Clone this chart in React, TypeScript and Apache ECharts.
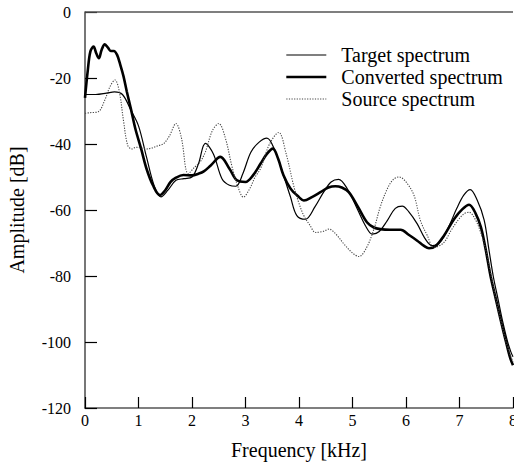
import React, { useEffect, useRef } from "react";
import * as echarts from "echarts";

const xTicks = [0, 1, 2, 3, 4, 5, 6, 7, 8];
const yTicks = [0, -20, -40, -60, -80, -100, -120];

const targetFreq = [0, 0.2, 0.4, 0.55, 0.7, 0.85, 1.0, 1.15, 1.3, 1.42, 1.55, 1.7, 1.85, 2.0, 2.12, 2.25, 2.4, 2.56, 2.7, 2.82, 2.95, 3.1, 3.25, 3.4, 3.55, 3.71, 3.84, 3.96, 4.12, 4.3, 4.46, 4.6, 4.74, 4.9, 5.09, 5.25, 5.37, 5.5, 5.65, 5.8, 5.93, 6.05, 6.21, 6.35, 6.49, 6.65, 6.8, 6.95, 7.08, 7.2, 7.33, 7.46, 7.55, 7.63, 7.72, 7.81, 7.9, 7.96, 8.0];
const targetAmp = [-25, -25, -24.6, -24.2, -25, -29.5, -34.5, -44, -53, -56, -54, -51, -50.5, -50, -46, -39.8, -43, -50.5, -52.5, -52.8, -49, -42.5, -39.5, -38.2, -42, -49.5, -56, -61.7, -62.8, -59, -54.6, -51.5, -50.7, -53.5, -59.7, -65, -67.3, -66.5, -63.2, -59.5, -58.8, -60.5, -64.2, -68.5, -70.8, -69.5, -65, -59.5, -55.5, -53.8, -57, -63, -72, -80, -87, -94, -100, -103, -104.5];

const convertedFreq = [0, 0.05, 0.1, 0.16, 0.21, 0.26, 0.31, 0.37, 0.43, 0.48, 0.54, 0.6, 0.66, 0.72, 0.78, 0.86, 0.94, 1.05, 1.15, 1.27, 1.4, 1.5, 1.6, 1.7, 1.84, 2.0, 2.12, 2.22, 2.35, 2.53, 2.7, 2.84, 3.0, 3.14, 3.28, 3.4, 3.51, 3.61, 3.71, 3.84, 4.0, 4.09, 4.25, 4.4, 4.55, 4.68, 4.8, 4.93, 5.1, 5.27, 5.4, 5.52, 5.7, 5.9, 6.05, 6.21, 6.33, 6.43, 6.55, 6.7, 6.9, 7.05, 7.18, 7.3, 7.4, 7.49, 7.58, 7.68, 7.78, 7.87, 7.95, 8.0];
const convertedAmp = [-26, -18, -12, -10.5, -12.5, -14, -11.5, -9.8, -10.8, -11.8, -11.8, -13, -16, -19.5, -24, -29.5, -35.3, -41.5, -47.5, -52.5, -55.5, -54, -51.5, -50.2, -49.4, -49.5, -49, -48.3, -46.5, -43.9, -47.5, -51, -51.5, -49.5, -46, -43, -41.4, -44.5, -49.5, -53.5, -56.1, -57.1, -56, -54.6, -53.2, -52.8, -53.2, -54.6, -59, -63.7, -65.3, -65.8, -66, -66, -67.5, -69.3, -70.8, -71.6, -71, -68, -62.7, -59.8, -58.4, -61, -65.2, -72, -80, -87, -94, -100, -105, -107];

const sourceFreq = [0, 0.1, 0.25, 0.37, 0.47, 0.56, 0.64, 0.72, 0.8, 0.88, 0.95, 1.05, 1.15, 1.25, 1.37, 1.47, 1.58, 1.7, 1.8, 1.93, 2.05, 2.15, 2.25, 2.38, 2.5, 2.62, 2.75, 2.86, 2.96, 3.08, 3.18, 3.28, 3.45, 3.62, 3.76, 3.9, 4.0, 4.09, 4.2, 4.31, 4.45, 4.56, 4.7, 4.84, 5.0, 5.12, 5.26, 5.4, 5.52, 5.65, 5.76, 5.87, 6.0, 6.15, 6.27, 6.4, 6.52, 6.7, 6.85, 7.0, 7.1, 7.18, 7.3, 7.4, 7.49, 7.58, 7.68, 7.78, 7.87, 7.95, 8.0];
const sourceAmp = [-30.7, -30.5, -30.2, -26.7, -22.5, -20.6, -24, -33, -40.5, -41.5, -41, -41.2, -41.5, -41.2, -40.5, -39.9, -37.5, -33.8, -38, -49, -47, -45.5, -42.4, -36, -33.8, -38, -47, -53, -56.1, -53.5, -50, -47.5, -40, -36.5, -43, -52.6, -58, -61.7, -64.5, -66.8, -66.5, -65.8, -67.5, -70.3, -73, -74.1, -71.5, -65.8, -59, -53.6, -50.8, -50, -51.5, -55.6, -63.2, -67.8, -71.3, -70, -66, -62.5, -61, -60.7, -63, -67, -72, -79, -87, -94, -100, -104, -106];

const seriesNames = ["Target spectrum", "Converted spectrum", "Source spectrum"];
const topFrameValue = 0;

const zip = (xs: number[], ys: number[]) => xs.map((x, i) => [x, ys[i]]);

const FONT = "'Liberation Serif', 'Times New Roman', serif";

const thin = { color: "#000", width: 1.2 };
const thick = { color: "#000", width: 2.6 };
const dotted = { color: "#444", width: 1.1, type: [1.2, 1.4] };
const axisLineStyle = { color: "#555", width: 1.6 };

export default function App() {
  const ref = useRef<HTMLDivElement>(null);
  useEffect(() => {
    if (!ref.current) return;
    const chart = echarts.init(ref.current, undefined, { renderer: "svg" });
    chart.setOption({
      animation: false,
      backgroundColor: "#fff",
      textStyle: { fontFamily: FONT, color: "#000" },
      grid: { left: 85, right: 1, top: 12, bottom: 65, containLabel: false, outerBoundsMode: "none" },
      legend: {
        orient: "vertical",
        left: 280,
        top: 40,
        itemWidth: 40,
        itemHeight: 10,
        itemGap: 2,
        itemStyle: { color: "transparent", borderWidth: 0, opacity: 0 },
        data: [
          { name: seriesNames[0], lineStyle: thin },
          { name: seriesNames[1], lineStyle: thick },
          { name: seriesNames[2], lineStyle: dotted },
        ],
        textStyle: { fontFamily: FONT, fontSize: 20, color: "#000", lineHeight: 20, padding: [0, 0, 0, 10] },
      },
      xAxis: {
        type: "value",
        min: 0,
        max: 8,
        interval: 1,
        name: "Frequency [kHz]",
        nameLocation: "middle",
        nameGap: 32,
        nameTextStyle: { fontFamily: FONT, fontSize: 20, color: "#000" },
        axisLine: { show: true, onZero: false, lineStyle: axisLineStyle },
        axisTick: { show: true, inside: true, length: 11, lineStyle: { color: "#000", width: 1.2 } },
        axisLabel: { fontFamily: FONT, fontSize: 16, color: "#000", margin: 4, showMaxLabel: true },
        splitLine: { show: false },
      },
      yAxis: {
        type: "value",
        min: -120,
        max: 0,
        interval: 20,
        name: "Amplitude [dB]",
        nameLocation: "middle",
        nameGap: 58,
        nameTextStyle: { fontFamily: FONT, fontSize: 20, color: "#000" },
        axisLine: { show: true, onZero: false, lineStyle: axisLineStyle },
        axisTick: { show: true, inside: true, length: 12, lineStyle: { color: "#000", width: 1.2 } },
        axisLabel: { fontFamily: FONT, fontSize: 16, color: "#000", margin: 14 },
        splitLine: { show: false },
      },
      series: [
        {
          name: seriesNames[0],
          type: "line",
          data: zip(targetFreq, targetAmp),
          smooth: 0.35,
          symbol: "none",
          lineStyle: thin,
          itemStyle: { color: "#000" },
          markLine: {
            silent: true,
            symbol: "none",
            label: { show: false },
            lineStyle: { type: "solid", color: "#555", width: 1.6 },
            data: [{ yAxis: topFrameValue }],
          },
        },
        {
          name: seriesNames[1],
          type: "line",
          data: zip(convertedFreq, convertedAmp),
          smooth: 0.35,
          symbol: "none",
          lineStyle: thick,
          itemStyle: { color: "#000" },
        },
        {
          name: seriesNames[2],
          type: "line",
          data: zip(sourceFreq, sourceAmp),
          smooth: 0.35,
          symbol: "none",
          lineStyle: dotted,
          itemStyle: { color: "#444" },
        },
      ],
    });
    return () => chart.dispose();
  }, []);
  return <div ref={ref} style={{ position: "absolute", left: 0, top: 0, width: 514, height: 473 }} />;
}
